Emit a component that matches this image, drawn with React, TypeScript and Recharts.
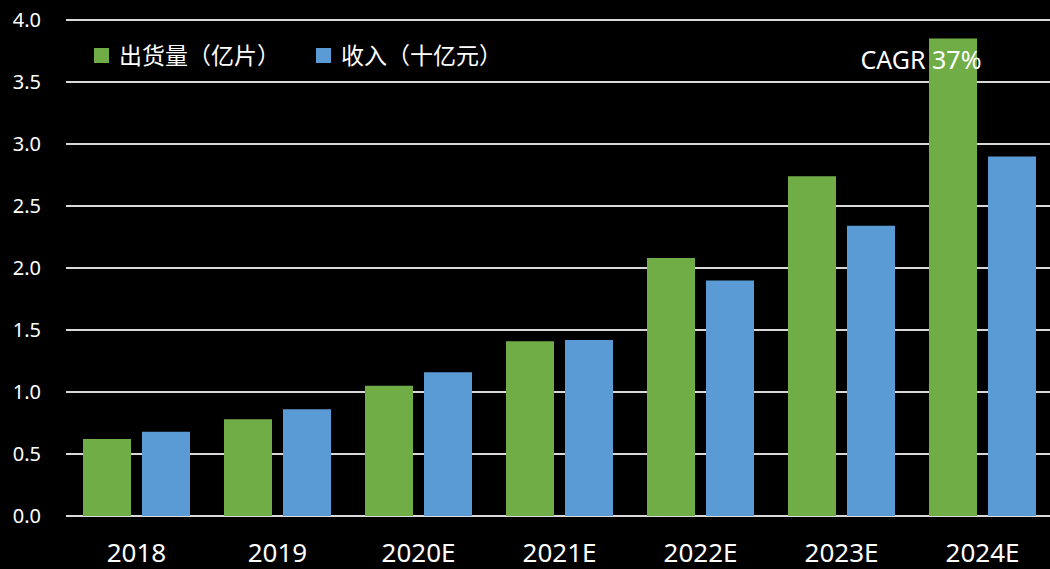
import React from 'react';
import { BarChart, Bar, XAxis, YAxis, CartesianGrid, LabelList } from 'recharts';

const categories = ['2018', '2019', '2020E', '2021E', '2022E', '2023E', '2024E'];
const shipments = [0.62, 0.78, 1.05, 1.41, 2.08, 2.74, 3.85];
const revenue = [0.68, 0.86, 1.16, 1.42, 1.9, 2.34, 2.9];
const yTicks = [0, 0.5, 1.0, 1.5, 2.0, 2.5, 3.0, 3.5, 4.0];
const seriesNames = ['出货量（亿片）', '收入（十亿元）'];
const cagrLabel = 'CAGR 37%';

const GREEN = '#70AD47';
const BLUE = '#5B9BD5';
const FONT = "'Noto Sans', 'Noto Sans CJK SC', sans-serif";

const data = categories.map((c, i) => ({ name: c, shipments: shipments[i], revenue: revenue[i] }));

const LegendBox = () => (
  <div
    style={{
      position: 'absolute',
      left: 94,
      top: 41,
      display: 'flex',
      alignItems: 'center',
      fontFamily: FONT,
      fontSize: 23,
      color: '#fff',
    }}
  >
    {[GREEN, BLUE].map((col, i) => (
      <div key={i} style={{ display: 'flex', alignItems: 'center', marginRight: i === 0 ? 36 : 0 }}>
        <div style={{ width: 15, height: 15, background: col, marginRight: 10 }} />
        <span style={{ lineHeight: '28px' }}>{seriesNames[i]}</span>
      </div>
    ))}
  </div>
);

const cagrContent = (props: any) => {
  const { x, y, width, index } = props;
  if (index !== categories.length - 1) return null;
  return (
    <text x={x + width / 2 - 32} y={y + 30} textAnchor="middle" fill="#fff" fontSize={25} fontFamily={FONT}>
      {cagrLabel}
    </text>
  );
};

export default function App() {
  return (
    <div style={{ position: 'absolute', left: 0, top: 0, width: 1050, height: 569, overflow: 'hidden', background: '#000' }}>
      <BarChart
        width={1053}
        height={569}
        data={data}
        margin={{ top: 20, right: 0, bottom: 0, left: 0 }}
        barSize={48}
        barGap={11}
      >
        <CartesianGrid vertical={false} stroke="#d9d9d9" strokeWidth={2} />
        <XAxis
          dataKey="name"
          height={53}
          axisLine={false}
          tickLine={false}
          tickSize={0}
          tickMargin={28}
          tick={{ fill: '#fff', fontSize: 26, fontFamily: FONT }}
          interval={0}
        />
        <YAxis
          width={66}
          domain={[0, 4]}
          ticks={yTicks}
          tickFormatter={(v: number) => v.toFixed(1)}
          axisLine={false}
          tickLine={false}
          tickSize={0}
          tickMargin={25}
          tick={{ fill: '#fff', fontSize: 20, fontFamily: FONT }}
          interval={0}
        />
        <Bar dataKey="shipments" fill={GREEN} isAnimationActive={false}>
          <LabelList dataKey="shipments" content={cagrContent} />
        </Bar>
        <Bar dataKey="revenue" fill={BLUE} isAnimationActive={false} />
      </BarChart>
      <LegendBox />
    </div>
  );
}
